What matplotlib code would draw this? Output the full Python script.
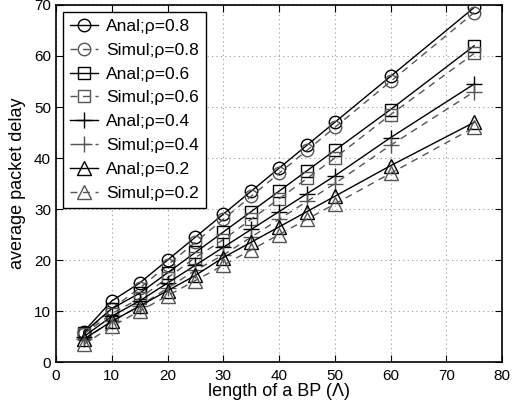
import matplotlib
matplotlib.use("Agg")
import matplotlib.pyplot as plt

plt.rcParams['font.family'] = ['Liberation Sans', 'DejaVu Sans']

x = [5, 10, 15, 20, 25, 30, 35, 40, 45, 50, 60, 75]

anal_08 = [6, 12, 15.5, 20, 24.5, 29, 33.5, 38, 42.5, 47, 56, 69.5]
simul_08 = [5.5, 10.5, 14.5, 19, 23.5, 28, 32.5, 37, 41.5, 46, 55, 68.5]
anal_06 = [5.8, 10.5, 13.5, 17.5, 21.5, 25.5, 29.5, 33.5, 37.5, 41.5, 49.5, 62]
simul_06 = [5.5, 9.5, 12.5, 16.5, 20.5, 24, 28, 32, 36, 40, 48.5, 60.5]
anal_04 = [5, 9, 12, 15.5, 19, 22.5, 26, 29.5, 33, 36.5, 44, 54.5]
simul_04 = [4.5, 8, 11, 14.5, 18, 21, 24.5, 28, 31.5, 35, 42.5, 53]
anal_02 = [4.5, 8, 11, 14, 17, 20.5, 23.5, 26.5, 29.5, 32.5, 38.5, 47]
simul_02 = [3.5, 7, 10, 13, 16, 19, 22, 25, 28, 31, 37, 46]

series = [
    ("Anal;\u03c1=0.8", anal_08, 'o', 'anal'),
    ("Simul;\u03c1=0.8", simul_08, 'o', 'simul'),
    ("Anal;\u03c1=0.6", anal_06, 's', 'anal'),
    ("Simul;\u03c1=0.6", simul_06, 's', 'simul'),
    ("Anal;\u03c1=0.4", anal_04, '+', 'anal'),
    ("Simul;\u03c1=0.4", simul_04, '+', 'simul'),
    ("Anal;\u03c1=0.2", anal_02, '^', 'anal'),
    ("Simul;\u03c1=0.2", simul_02, '^', 'simul'),
]

fig = plt.figure(figsize=(5.16, 4.12), dpi=100)
ax = fig.add_axes([0.1085, 0.121, 0.8645, 0.867])

for label, vals, mk, kind in series:
    if kind == 'anal':
        color = 'black'
        ls = '-'
    else:
        color = '#555555'
        ls = (0, (5, 4))
    ms = {'o': 9, 's': 8, '+': 11, '^': 9.5}[mk]
    ax.plot(x, vals, linestyle=ls, color=color, linewidth=1.0,
            marker=mk, markersize=ms, markerfacecolor='none',
            markeredgecolor=color, markeredgewidth=1.0, label=label)

ax.set_xlim(0, 80)
ax.set_ylim(0, 70)
ax.set_xticks(range(0, 81, 10))
ax.set_yticks(range(0, 71, 10))
ax.tick_params(direction='in', labelsize=11, length=5, top=True, right=True)
ax.tick_params(axis='x', pad=5)
ax.grid(True, linestyle=(0, (1, 3)), color='#999999', linewidth=0.8)
for s in ax.spines.values():
    s.set_linewidth(1.2)

ax.set_xlabel("length of a BP (\u039b)", fontsize=13, labelpad=0)
ax.set_ylabel("average packet delay", fontsize=13, labelpad=6)

leg = ax.legend(loc='upper left', fontsize=12.5, fancybox=False, framealpha=1,
                edgecolor='black', handlelength=1.6, handletextpad=0.5,
                borderaxespad=0.4, labelspacing=0.5, borderpad=0.4)
leg.get_frame().set_linewidth(1.0)

fig.savefig("out.png", dpi=100)
